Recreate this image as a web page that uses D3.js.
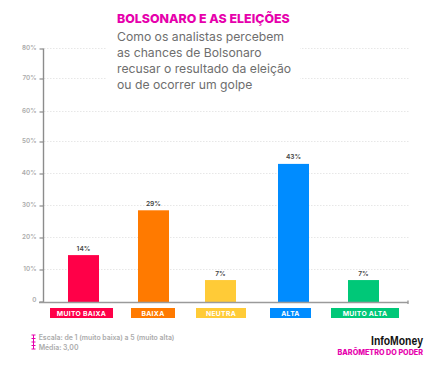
<!DOCTYPE html>
<html>
<head>
<meta charset="utf-8">
<script src="https://cdn.jsdelivr.net/npm/d3@7"></script>
<style>
  html, body { margin: 0; padding: 0; background: #fff; }
  svg { display: block; }
  text { font-family: Inter, "Noto Sans", sans-serif; }
</style>
</head>
<body>
<svg id="chart" width="447" height="368"></svg>
<script>
const categories = ["MUITO BAIXA", "BAIXA", "NEUTRA", "ALTA", "MUITO ALTA"];
const barValues = [14.5, 28.5, 6.7, 43, 6.7];
const barLabels = ["14%", "29%", "7%", "43%", "7%"];
const barColors = ["#ff0048", "#ff7a00", "#ffcb37", "#008cff", "#00c878"];
const yTicks = [0, 10, 20, 30, 40, 50, 60, 70, 80];
const titleText = "BOLSONARO E AS ELEIÇÕES";
const subtitleLines = [
  "Como os analistas percebem",
  "as chances de Bolsonaro",
  "recusar o resultado da eleição",
  "ou de ocorrer um golpe"
];
const noteLines = ["Escala: de 1 (muito baixa) a 5 (muito alta)", "Média: 3,00"];

const svg = d3.select("#chart");
// the original's gridlines are a little uneven, so the scale follows them tick by tick
const y = d3.scaleLinear().domain(yTicks)
  .range([301.5, 269.5, 237.5, 205.5, 173.5, 141.5, 111.5, 78.5, 48.5]);
// bars and pills are not evenly spaced in the original either
const x = d3.scaleOrdinal().domain(categories).range([83.5, 153.5, 220.5, 293.5, 363.5]);
const pillX = d3.scaleOrdinal().domain(categories).range([81.5, 153, 221, 290.5, 365]);
const pillWidth = d3.scaleOrdinal().domain(categories).range([63, 44, 50, 41, 68]);
const barWidth = 31;

// grid
svg.append("g").selectAll("line")
  .data(yTicks.slice(1))
  .join("line")
  .attr("x1", 44)
  .attr("x2", 409)
  .attr("y1", d => y(d))
  .attr("y2", d => y(d))
  .attr("stroke", "#dcdcdc")
  .attr("stroke-width", 0.7)
  .attr("stroke-dasharray", "1.5 1.5");

// white patch behind the heading
svg.append("rect")
  .attr("x", 107)
  .attr("y", 10)
  .attr("width", 193)
  .attr("height", 90)
  .attr("fill", "#fff");

// y axis
const yAxis = svg.append("g")
  .attr("transform", "translate(43.5,0)")
  .call(d3.axisLeft(y).tickValues(yTicks).tickSize(4).tickPadding(3)
    .tickFormat(d => d === 0 ? "0" : d + "%"));
yAxis.select(".domain").remove();
yAxis.selectAll("line").attr("stroke", "#8c8c8c").attr("stroke-width", 1.2);
yAxis.selectAll("text")
  .attr("fill", "#ababab")
  .attr("y", d => d === 0 ? -1.8 : -0.8)
  .style("font-size", "6.3px")
  .style("font-weight", 600);

svg.append("line")
  .attr("x1", 43.5).attr("x2", 43.5)
  .attr("y1", y(80)).attr("y2", y(0) + 1)
  .attr("stroke", "#8c8c8c").attr("stroke-width", 1.4);

// bars
svg.append("g").selectAll("rect")
  .data(categories)
  .join("rect")
  .attr("x", d => x(d) - barWidth / 2)
  .attr("width", barWidth)
  .attr("y", (d, i) => y(barValues[i]))
  .attr("height", (d, i) => y(0) - y(barValues[i]) + 1)
  .attr("fill", (d, i) => barColors[i]);

// x axis line
svg.append("line")
  .attr("x1", 39).attr("x2", 408)
  .attr("y1", y(0) + 1).attr("y2", y(0) + 1)
  .attr("stroke", "#9a9a9a").attr("stroke-width", 1.5);
svg.append("line")
  .attr("x1", 408).attr("x2", 408)
  .attr("y1", y(0) - 1).attr("y2", y(0) + 2.5)
  .attr("stroke", "#9a9a9a").attr("stroke-width", 1.4);

svg.append("g").selectAll("text")
  .data(categories)
  .join("text")
  .attr("x", d => x(d))
  .attr("y", (d, i) => y(barValues[i]) - 4.5)
  .attr("text-anchor", "middle")
  .attr("fill", "#444")
  .style("font-size", "6.6px")
  .style("font-weight", 600)
  .text((d, i) => barLabels[i]);

// category pills
svg.append("g").selectAll("rect")
  .data(categories)
  .join("rect")
  .attr("x", d => pillX(d) - pillWidth(d) / 2)
  .attr("y", 308)
  .attr("width", d => pillWidth(d))
  .attr("height", 10)
  .attr("fill", (d, i) => barColors[i]);

svg.append("g").selectAll("text")
  .data(categories)
  .join("text")
  .attr("x", d => pillX(d))
  .attr("y", 315.6)
  .attr("text-anchor", "middle")
  .attr("fill", "#fff")
  .style("font-size", "6.8px")
  .style("font-weight", 700)
  .style("letter-spacing", "0.3px")
  .text(d => d);

// heading
svg.append("text")
  .attr("x", 117)
  .attr("y", 23)
  .attr("fill", "#e600ac")
  .style("font-size", "12.4px")
  .style("font-weight", 800)
  .text(titleText);

svg.append("g").selectAll("text")
  .data(subtitleLines)
  .join("text")
  .attr("x", 117)
  .attr("y", (d, i) => 40.8 + i * 16)
  .attr("fill", "#6e6e6e")
  .style("font-size", "12.2px")
  .text(d => d);

// scale marker next to the note
const marker = svg.append("g").attr("stroke", "#e600ac").attr("stroke-width", 1);
marker.append("line").attr("x1", 33.5).attr("x2", 33.5).attr("y1", 335).attr("y2", 349);
marker.selectAll(".cap")
  .data([335, 338.5, 342, 345.5, 349])
  .join("line")
  .attr("class", "cap")
  .attr("x1", 31.5).attr("x2", 35.5)
  .attr("y1", d => d).attr("y2", d => d);

svg.append("g").selectAll("text")
  .data(noteLines)
  .join("text")
  .attr("x", 38.7)
  .attr("y", (d, i) => 340 + i * 10)
  .attr("fill", "#ababab")
  .style("font-size", "6.9px")
  .style("font-weight", 600)
  .text(d => d);

// logo block
svg.append("text")
  .attr("x", 371)
  .attr("y", 345)
  .attr("textLength", 52)
  .attr("lengthAdjust", "spacingAndGlyphs")
  .attr("fill", "#111")
  .style("font-family", "'Liberation Sans', sans-serif")
  .style("font-size", "13.5px")
  .style("font-weight", 700)
  .text("InfoMoney");

svg.append("text")
  .attr("x", 423)
  .attr("y", 355)
  .attr("text-anchor", "end")
  .attr("fill", "#e600ac")
  .style("font-size", "7.2px")
  .style("font-weight", 800)
  .text("BARÔMETRO DO PODER");
</script>
</body>
</html>
